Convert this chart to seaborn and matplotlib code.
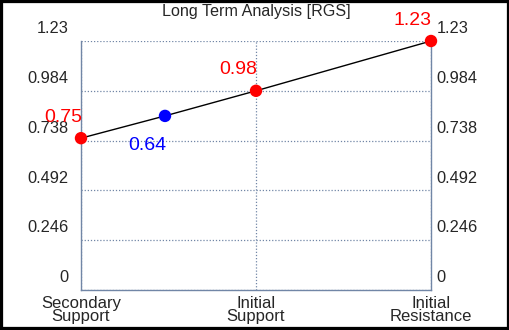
import matplotlib
matplotlib.use("Agg")
import matplotlib.pyplot as plt
import matplotlib.transforms as mtransforms
from matplotlib.patches import Rectangle
import seaborn as sns
import pandas as pd

# chart data
categories = ["Secondary\nSupport", "Initial\nSupport", "Initial\nResistance"]
point_x = [0, 0.48, 1, 2]
point_y = [0.75, 0.86, 0.984, 1.23]
point_labels = ["0.75", "0.64", "0.98", "1.23"]
point_kind = ["level", "current", "level", "level"]
y_ticks = [0, 0.246, 0.492, 0.738, 0.984, 1.23]
y_tick_labels = ["0", "0.246", "0.492", "0.738", "0.984", "1.23"]
title = "Long Term Analysis [RGS]"

df = pd.DataFrame({"x": point_x, "y": point_y, "label": point_labels, "kind": point_kind})
colors = {"level": "#ff0000", "current": "#0000ff"}
axis_col = "#7186a6"

sns.set_style("white")
plt.rcParams["font.family"] = ["Liberation Sans", "DejaVu Sans"]

fig = plt.figure(figsize=(5.1, 3.3), dpi=100)
ax = fig.add_axes([81 / 510, 40 / 330, 350 / 510, 249 / 330])

sns.lineplot(data=df, x="x", y="y", color="black", linewidth=1, ax=ax, sort=False)
sns.scatterplot(data=df, x="x", y="y", hue="kind", palette=colors, s=80,
                edgecolor="none", legend=False, ax=ax, zorder=5, clip_on=False)

# value labels next to the points
for _, r in df.iterrows():
    off = (-13, -21) if r["kind"] == "current" else (-13, 15)
    ax.annotate(r["label"], (r["x"], r["y"]), xytext=off, textcoords="offset points",
                ha="center", va="center", fontsize=14, color=colors[r["kind"]],
                zorder=6, annotation_clip=False)

ax.set_xlim(0, 2)
ax.set_ylim(0, 1.23)
ax.set_xticks(range(len(categories)), categories, fontsize=12, linespacing=0.9)
ax.set_yticks(y_ticks, y_tick_labels, fontsize=11.8)
ax.tick_params(axis="both", length=0)
ax.tick_params(axis="x", pad=4)
ax.tick_params(axis="y", pad=4, labelright=True)
ax.set_xlabel("")
ax.set_ylabel("")

# y labels sit above their grid lines
up = mtransforms.ScaledTranslation(0, 3.5 / 72, fig.dpi_scale_trans)
left_shift = mtransforms.ScaledTranslation(-5 / 72, 3.5 / 72, fig.dpi_scale_trans)
for t in ax.yaxis.get_major_ticks():
    t.label1.set_va("bottom")
    t.label2.set_va("bottom")
    t.label1.set_transform(t.label1.get_transform() + left_shift)
    t.label2.set_transform(t.label2.get_transform() + up)

ax.grid(True, color=axis_col, linestyle=(0, (1, 1.5)), linewidth=0.9)
ax.spines["top"].set_visible(False)
for s in ["left", "right", "bottom"]:
    ax.spines[s].set_color(axis_col)
    ax.spines[s].set_linewidth(1)

ax.set_title(title, fontsize=11.6, pad=18)

# black frame around the whole picture
fig.patches.append(Rectangle((0, 0), 1, 1, transform=fig.transFigure, fill=False,
                             edgecolor="black", linewidth=4.5))

fig.savefig("out.png", dpi=100)
